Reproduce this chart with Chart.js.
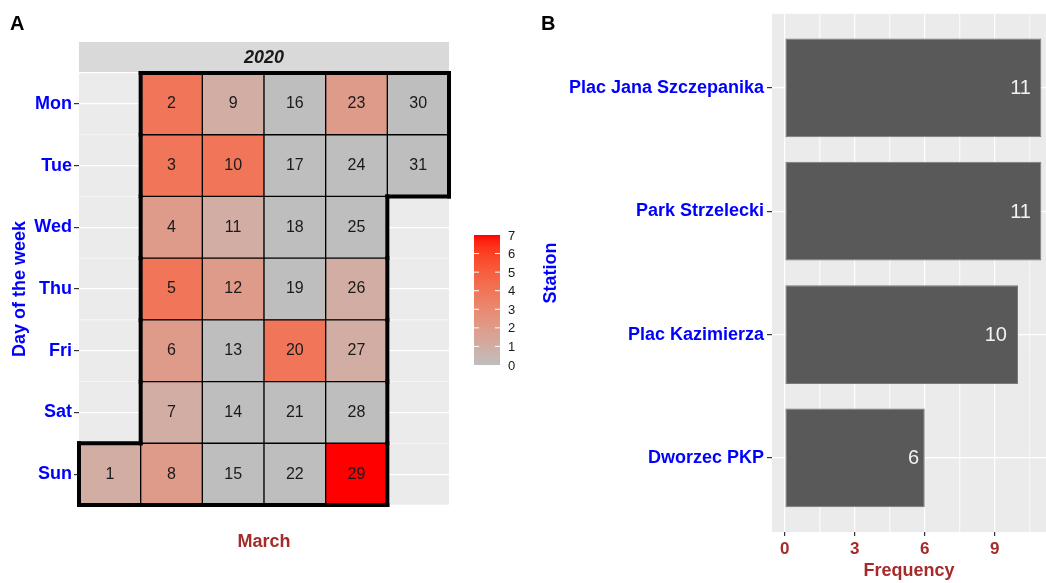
<!DOCTYPE html>
<html>
<head>
<meta charset="utf-8">
<script src="https://cdn.jsdelivr.net/npm/chart.js@4.4.1/dist/chart.umd.min.js"></script>
<style>
  body { margin: 0; background: #fff; }
  #wrap { position: relative; width: 1046px; height: 583px; }
  canvas { position: absolute; top: 0; }
  #calChart { left: 0; }
  #barChart { left: 540px; }
</style>
</head>
<body>
<div id="wrap">
  <canvas id="calChart" width="540" height="583"></canvas>
  <canvas id="barChart" width="506" height="583"></canvas>
</div>
<script>
// Panel A - calendar of March 2020
const weekdays = ['Mon', 'Tue', 'Wed', 'Thu', 'Fri', 'Sat', 'Sun'];
const marchDays = [1, 2, 3, 4, 5, 6, 7, 8, 9, 10, 11, 12, 13, 14, 15, 16,
                   17, 18, 19, 20, 21, 22, 23, 24, 25, 26, 27, 28, 29, 30, 31];
const marchCounts = [1, 4, 4, 2, 4, 2, 1, 2, 1, 4, 1, 2, 0, 0, 0, 0,
                     0, 0, 0, 4, 0, 0, 2, 0, 0, 1, 1, 0, 7, 0, 0];
const firstWeekday = 6; // 1 March 2020 was a Sunday (Mon = 0)
const countTicks = [0, 1, 2, 3, 4, 5, 6, 7];
const yearLabel = '2020';
const monthLabel = 'March';

// Panel B - stations
const stations = ['Plac Jana Szczepanika', 'Park Strzelecki', 'Plac Kazimierza', 'Dworzec PKP'];
const stationCounts = [11, 11, 10, 6];
const freqTicks = [0, 3, 6, 9];

const FONT = '"Liberation Sans", Arial, sans-serif';
const BLUE = '#0000FF';
const BROWN = '#A52A2A';
Chart.defaults.font.family = FONT;

// grey -> red gradient, interpolated in Lab like ggplot does
function hexToLab(hex) {
    const lin = c => { c /= 255; return c <= 0.04045 ? c / 12.92 : Math.pow((c + 0.055) / 1.055, 2.4); };
    const r = lin(parseInt(hex.slice(1, 3), 16)), g = lin(parseInt(hex.slice(3, 5), 16)), b = lin(parseInt(hex.slice(5, 7), 16));
    const X = (0.4124 * r + 0.3576 * g + 0.1805 * b) / 0.95047;
    const Y = 0.2126 * r + 0.7152 * g + 0.0722 * b;
    const Z = (0.0193 * r + 0.1192 * g + 0.9505 * b) / 1.08883;
    const f = t => t > 0.008856 ? Math.cbrt(t) : 7.787 * t + 16 / 116;
    return [116 * f(Y) - 16, 500 * (f(X) - f(Y)), 200 * (f(Y) - f(Z))];
}
function labToRgb(L, a, bb) {
    const fy = (L + 16) / 116, fx = fy + a / 500, fz = fy - bb / 200;
    const finv = t => t * t * t > 0.008856 ? t * t * t : (t - 16 / 116) / 7.787;
    const X = finv(fx) * 0.95047, Y = finv(fy), Z = finv(fz) * 1.08883;
    const gam = c => { c = c <= 0.0031308 ? 12.92 * c : 1.055 * Math.pow(c, 1 / 2.4) - 0.055; return Math.round(Math.min(1, Math.max(0, c)) * 255); };
    const r = gam(3.2406 * X - 1.5372 * Y - 0.4986 * Z);
    const g = gam(-0.9689 * X + 1.8758 * Y + 0.0415 * Z);
    const b = gam(0.0557 * X - 0.2040 * Y + 1.0570 * Z);
    return `rgb(${r},${g},${b})`;
}
const lowLab = hexToLab('#BEBEBE');
const highLab = hexToLab('#FF0000');
const maxCount = countTicks[countTicks.length - 1];
function countColor(v) {
    const t = v / maxCount;
    return labToRgb(lowLab[0] + (highLab[0] - lowLab[0]) * t,
                    lowLab[1] + (highLab[1] - lowLab[1]) * t,
                    lowLab[2] + (highLab[2] - lowLab[2]) * t);
}

// place each day in its week column / weekday row
const cells = marchDays.map((d, i) => {
    const pos = firstWeekday + d - 1;
    return { day: d, week: Math.floor(pos / 7) + 1, wd: pos % 7 + 1, count: marchCounts[i] };
});
const nWeeks = Math.max(...cells.map(c => c.week));

const calendarDecor = {
    id: 'calendarDecor',
    beforeDraw(chart) {
        const { ctx, chartArea: a, scales: { y } } = chart;
        ctx.save();
        ctx.fillStyle = '#EBEBEB';
        ctx.fillRect(a.left, a.top, a.right - a.left, a.bottom - a.top);
        // minor grid lines between weekdays
        ctx.strokeStyle = '#FFFFFF';
        ctx.lineWidth = 0.6;
        for (let i = 0; i <= weekdays.length; i++) {
            const py = y.getPixelForValue(i + 0.5);
            ctx.beginPath();
            ctx.moveTo(a.left, py);
            ctx.lineTo(a.right, py);
            ctx.stroke();
        }
        // facet strip
        ctx.fillStyle = '#D9D9D9';
        ctx.fillRect(a.left, a.top - 31, a.right - a.left, 30);
        ctx.fillStyle = '#1A1A1A';
        ctx.font = 'italic bold 18px ' + FONT;
        ctx.textAlign = 'center';
        ctx.textBaseline = 'middle';
        ctx.fillText(yearLabel, (a.left + a.right) / 2, a.top - 15);
        // panel tag
        ctx.fillStyle = '#000';
        ctx.font = 'bold 20px ' + FONT;
        ctx.textAlign = 'left';
        ctx.textBaseline = 'alphabetic';
        ctx.fillText('A', 10, 30);
        ctx.restore();
    },
    afterDatasetsDraw(chart) {
        const { ctx, scales: { x, y } } = chart;
        const meta = chart.getDatasetMeta(0);
        ctx.save();
        // day numbers
        ctx.fillStyle = '#1A1A1A';
        ctx.font = '16px ' + FONT;
        ctx.textAlign = 'center';
        ctx.textBaseline = 'middle';
        meta.data.forEach((el, i) => {
            ctx.fillText(String(cells[i].day), el.x, (el.y + el.base) / 2);
        });
        // thick outline around the month
        const has = new Set(cells.map(c => c.week + ',' + c.wd));
        ctx.strokeStyle = '#000';
        ctx.lineWidth = 4;
        ctx.lineCap = 'square';
        const seg = (x1, y1, x2, y2) => {
            ctx.beginPath();
            ctx.moveTo(x.getPixelForValue(x1), y.getPixelForValue(y1));
            ctx.lineTo(x.getPixelForValue(x2), y.getPixelForValue(y2));
            ctx.stroke();
        };
        cells.forEach(c => {
            const l = c.week - 0.5, r = c.week + 0.5, t = c.wd - 0.5, b = c.wd + 0.5;
            if (!has.has((c.week - 1) + ',' + c.wd)) seg(l, t, l, b);
            if (!has.has((c.week + 1) + ',' + c.wd)) seg(r, t, r, b);
            if (!has.has(c.week + ',' + (c.wd - 1))) seg(l, t, r, t);
            if (!has.has(c.week + ',' + (c.wd + 1))) seg(l, b, r, b);
        });
        ctx.restore();
    },
    afterDraw(chart) {
        // colour bar legend
        const ctx = chart.ctx;
        const lx = 474, ly = 235, lw = 26, lh = 130;
        ctx.save();
        const grad = ctx.createLinearGradient(0, ly + lh, 0, ly);
        for (let s = 0; s <= 20; s++) grad.addColorStop(s / 20, countColor(s / 20 * maxCount));
        ctx.fillStyle = grad;
        ctx.fillRect(lx, ly, lw, lh);
        ctx.font = '13px ' + FONT;
        ctx.textAlign = 'left';
        ctx.textBaseline = 'middle';
        countTicks.forEach(v => {
            const ty = ly + lh - v / maxCount * lh;
            if (v > 0 && v < maxCount) {
                ctx.strokeStyle = '#FFFFFF';
                ctx.lineWidth = 1;
                ctx.beginPath();
                ctx.moveTo(lx, ty); ctx.lineTo(lx + 5, ty);
                ctx.moveTo(lx + lw - 5, ty); ctx.lineTo(lx + lw, ty);
                ctx.stroke();
            }
            ctx.fillStyle = '#1A1A1A';
            ctx.fillText(String(v), lx + lw + 8, ty + 1);
        });
        ctx.restore();
    }
};

new Chart(document.getElementById('calChart'), {
    type: 'bar',
    data: {
        datasets: [{
            data: cells.map(c => ({ x: c.week, y: [c.wd - 0.5, c.wd + 0.5] })),
            backgroundColor: cells.map(c => countColor(c.count)),
            borderColor: '#000',
            borderWidth: 1,
            borderSkipped: false,
            barPercentage: 1,
            categoryPercentage: 1
        }]
    },
    options: {
        responsive: false,
        animation: false,
        events: [],
        layout: { padding: { top: 73, right: 91, bottom: 0, left: 0 } },
        plugins: { legend: { display: false }, tooltip: { enabled: false } },
        scales: {
            x: {
                type: 'linear',
                offset: false,
                min: 0.5,
                max: nWeeks + 0.5,
                afterBuildTicks: scale => { scale.ticks = []; },
                afterFit: scale => { scale.height = 78; },
                border: { display: false },
                grid: { display: false },
                ticks: { display: false },
                title: {
                    display: true,
                    text: monthLabel,
                    color: BROWN,
                    font: { size: 18, weight: 'bold' },
                    padding: { top: 0, bottom: 30 }
                }
            },
            y: {
                type: 'linear',
                reverse: true,
                min: 0.5,
                max: weekdays.length + 0.5,
                afterBuildTicks: scale => { scale.ticks = weekdays.map((w, i) => ({ value: i + 1 })); },
                afterFit: scale => { scale.width = 79; },
                border: { display: false },
                grid: { color: '#FFFFFF', lineWidth: 1.2, tickLength: 5, tickColor: '#333' },
                ticks: {
                    color: BLUE,
                    padding: 2,
                    font: { size: 18, weight: 'bold' },
                    callback: v => weekdays[Math.round(v) - 1]
                },
                title: {
                    display: true,
                    text: 'Day of the week',
                    color: BLUE,
                    font: { size: 18, weight: 'bold' },
                    padding: { top: 9, bottom: 0 }
                }
            }
        }
    },
    plugins: [calendarDecor]
});

// Panel B - frequency per station
const barDecor = {
    id: 'barDecor',
    beforeDraw(chart) {
        const { ctx, chartArea: a, scales: { x } } = chart;
        ctx.save();
        ctx.fillStyle = '#EBEBEB';
        ctx.fillRect(a.left, a.top, a.right - a.left, a.bottom - a.top);
        // minor vertical grid lines halfway between major ticks
        const step = freqTicks[1] - freqTicks[0];
        ctx.strokeStyle = '#FFFFFF';
        ctx.lineWidth = 0.6;
        freqTicks.forEach(t => {
            [t - step / 2, t + step / 2].forEach(m => {
                if (m <= x.min || m >= x.max) return;
                const px = x.getPixelForValue(m);
                ctx.beginPath();
                ctx.moveTo(px, a.top);
                ctx.lineTo(px, a.bottom);
                ctx.stroke();
            });
        });
        ctx.fillStyle = '#000';
        ctx.font = 'bold 20px ' + FONT;
        ctx.textAlign = 'left';
        ctx.textBaseline = 'alphabetic';
        ctx.fillText('B', 1, 30);
        ctx.restore();
    },
    afterDatasetsDraw(chart) {
        const ctx = chart.ctx;
        const meta = chart.getDatasetMeta(0);
        ctx.save();
        ctx.fillStyle = '#F2F2F2';
        ctx.font = '20px ' + FONT;
        ctx.textAlign = 'right';
        ctx.textBaseline = 'middle';
        meta.data.forEach((el, i) => {
            const txt = String(stationCounts[i]);
            const w = ctx.measureText(txt).width;
            ctx.fillText(txt, el.x - w / 2, el.y + 1);
        });
        ctx.restore();
    }
};

new Chart(document.getElementById('barChart'), {
    type: 'bar',
    data: {
        datasets: [{
            data: stations.map((s, i) => ({ x: stationCounts[i], y: i })),
            backgroundColor: '#595959',
            borderColor: '#7A7A7A',
            borderWidth: 1,
            borderSkipped: false,
            barPercentage: 0.8,
            categoryPercentage: 1
        }]
    },
    options: {
        indexAxis: 'y',
        responsive: false,
        animation: false,
        events: [],
        layout: { padding: { top: 12, right: 0, bottom: 0, left: 0 } },
        plugins: { legend: { display: false }, tooltip: { enabled: false } },
        scales: {
            x: {
                type: 'linear',
                min: -0.55,
                max: 11.2,
                afterBuildTicks: scale => { scale.ticks = freqTicks.map(v => ({ value: v })); },
                afterFit: scale => { scale.height = 51; },
                border: { display: false },
                grid: { color: '#FFFFFF', lineWidth: 1.2, tickLength: 4, tickColor: '#333' },
                ticks: { color: BROWN, padding: 3, font: { size: 17, weight: 'bold' } },
                title: {
                    display: true,
                    text: 'Frequency',
                    color: BROWN,
                    font: { size: 18, weight: 'bold' },
                    padding: { top: 0, bottom: 1 }
                }
            },
            y: {
                type: 'linear',
                offset: false,
                reverse: true,
                min: -0.6,
                max: stations.length - 0.4,
                afterBuildTicks: scale => { scale.ticks = stations.map((s, i) => ({ value: i })); },
                afterFit: scale => { scale.width = 232; },
                border: { display: false },
                grid: { offset: false, color: '#FFFFFF', lineWidth: 1.2, tickLength: 5, tickColor: '#333' },
                ticks: {
                    color: BLUE,
                    padding: 3,
                    font: { size: 18, weight: 'bold' },
                    callback: v => stations[Math.round(v)]
                },
                title: {
                    display: true,
                    text: 'Station',
                    color: BLUE,
                    font: { size: 18, weight: 'bold' },
                    padding: { top: 0, bottom: 0 }
                }
            }
        }
    },
    plugins: [barDecor]
});
</script>
</body>
</html>
